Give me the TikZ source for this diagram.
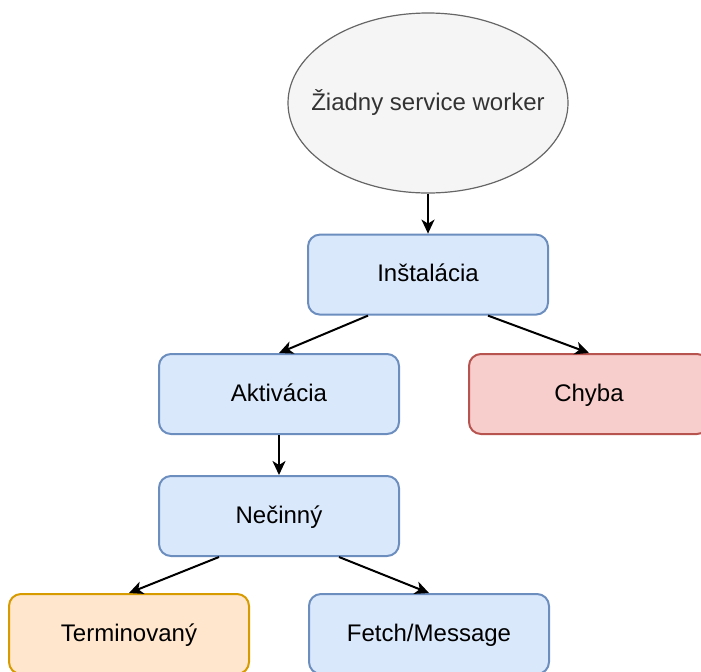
\documentclass[tikz,border=0pt]{standalone}
\usepackage{fontspec}
\setmainfont{Liberation Sans}
\usetikzlibrary{shapes,arrows,arrows.meta,positioning}

\definecolor{blueFill}{HTML}{DAE8FC}
\definecolor{blueLine}{HTML}{6C8EBF}
\definecolor{redFill}{HTML}{F8CECC}
\definecolor{redLine}{HTML}{B85450}
\definecolor{orangeFill}{HTML}{FFE6CC}
\definecolor{orangeLine}{HTML}{D79B00}
\definecolor{grayFill}{HTML}{F5F5F5}
\definecolor{grayLine}{HTML}{666666}
\definecolor{grayText}{HTML}{333333}

\begin{document}
\begin{tikzpicture}[
    x=0.5pt, y=-0.5pt,
    font=\fontsize{12}{14}\selectfont,
    state/.style={rectangle, draw, rounded corners=6pt, line width=1pt, minimum width=120pt, minimum height=40pt, align=center, text height=0.72em, text depth=0pt},
    bluestate/.style={state, fill=blueFill, draw=blueLine},
    start/.style={ellipse, draw=grayLine, fill=grayFill, text=grayText, line width=0.6pt, minimum width=140pt, minimum height=90pt, inner sep=0pt, text height=0.72em, text depth=0pt},
    arrow/.style={->, >={Stealth[length=7pt, width=6.5pt, inset=2pt]}, line width=1pt}
]
\clip (0,0) rectangle (701,671);

% Start
\node[start] (none) at (428,103) {\makebox[0pt]{\v{Z}iadny service worker}};
\node[bluestate, below=20pt of none] (install) {In\v{s}tal\'acia};

% Install outcomes
\node[bluestate] (activate) at (279,394) {Aktiv\'acia};
\node[state, fill=redFill, draw=redLine] (error) at (589,394) {Chyba};
\node[bluestate, below=20pt of activate] (idle) {Ne\v{c}inn\'y};

% Idle outcomes
\node[state, fill=orangeFill, draw=orangeLine] (terminated) at (129,634) {Terminovan\'y};
\node[bluestate] (fetch) at (429,634) {Fetch/Message};

\draw[arrow] (none) -- (install);
\draw[arrow] ([xshift=-30pt]install.south) -- (activate.north);
\draw[arrow] ([xshift=30pt]install.south) -- (error.north);
\draw[arrow] (activate) -- (idle);
\draw[arrow] ([xshift=-30pt]idle.south) -- (terminated.north);
\draw[arrow] ([xshift=30pt]idle.south) -- (fetch.north);

\end{tikzpicture}
\end{document}
